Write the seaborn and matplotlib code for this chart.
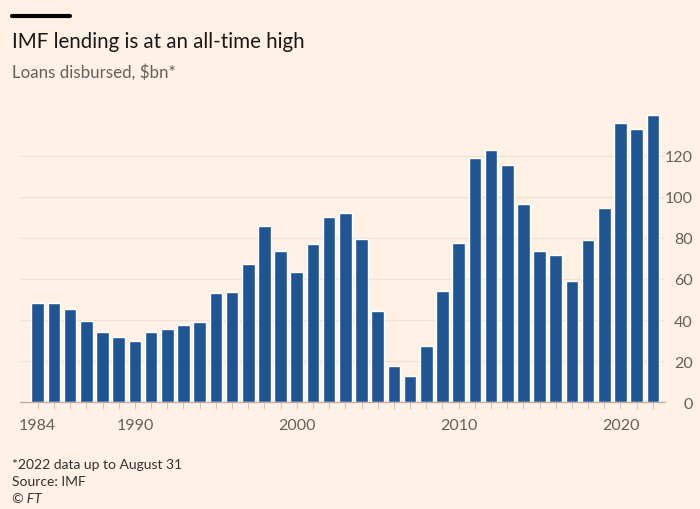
import numpy as np
import pandas as pd
import seaborn as sns
import matplotlib.pyplot as plt
from matplotlib.lines import Line2D

# Loans disbursed by the IMF, $bn
years = list(range(1984, 2023))
loans = [48.3, 48.3, 45.2, 39.4, 34.0, 31.6, 30.0, 34.2, 35.6, 37.4,
         38.9, 53.3, 53.8, 67.4, 85.6, 73.7, 63.2, 76.8, 90.3, 92.1,
         79.6, 44.6, 17.5, 12.6, 27.5, 54.3, 77.5, 118.7, 122.7, 115.4,
         96.6, 73.4, 71.5, 59.1, 79.1, 94.3, 135.7, 133.2, 139.7]
year_ticks = [1984, 1990, 2000, 2010, 2020]
value_ticks = [0, 20, 40, 60, 80, 100, 120]

df = pd.DataFrame({"year": years, "loans": loans})

bg = "#FFF1E5"
bar_col = "#1F5592"
grey = "#66605C"

sns.set_theme(style="white")
plt.rcParams["font.family"] = ["Lato", "DejaVu Sans"]

fig = plt.figure(figsize=(7, 5.1), dpi=100, facecolor=bg)
ax = fig.add_axes([20 / 700, 1 - 403.3 / 510, 645 / 700, (403.3 - 111) / 510])
ax.set_facecolor(bg)

sns.barplot(data=df, x="year", y="loans", native_scale=True, color=bar_col,
            saturation=1, width=0.78, ax=ax, zorder=3)

ax.set_xlim(1982.9, 2022.75)
ax.set_ylim(0, 142.2)

# gridlines
ax.set_yticks(value_ticks)
ax.grid(axis="y", color="#EEE0D3", linewidth=0.9, zorder=0)
ax.yaxis.tick_right()
ax.tick_params(axis="y", length=0, pad=20, labelsize=11.5, labelcolor=grey)
for lab in ax.get_yticklabels():
    lab.set_horizontalalignment("right")

# x ticks: every year minor, labelled decades
ax.set_xticks(year_ticks)
ax.set_xticklabels([str(y) for y in year_ticks])
ax.set_xticks(years, minor=True)
ax.tick_params(axis="x", which="both", length=5, width=0.8, color="#D5C9BE",
               labelsize=11.5, labelcolor=grey, pad=6, bottom=True)
ax.set_xlabel("")
ax.set_ylabel("")

for s in ["top", "right", "left"]:
    ax.spines[s].set_visible(False)
ax.spines["bottom"].set_color("#B8ADA4")
ax.spines["bottom"].set_linewidth(0.9)
ax.spines["bottom"].set_zorder(4)

# header
fig.add_artist(Line2D([12 / 700, 70 / 700], [1 - 17 / 510, 1 - 17 / 510],
                      color="black", linewidth=3, transform=fig.transFigure))
fig.text(12 / 700, 1 - 42 / 510, "IMF lending is at an all-time high",
         fontsize=14.8, color="#1A1817", va="center", ha="left")
fig.text(12 / 700, 1 - 72 / 510, "Loans disbursed, $bn*",
         fontsize=12.2, color=grey, va="center", ha="left")

# footer
fig.text(12 / 700, 1 - 465 / 510, "*2022 data up to August 31",
         fontsize=10, color="#33302E", va="center", ha="left")
fig.text(12 / 700, 1 - 482 / 510, "Source: IMF",
         fontsize=10, color="#33302E", va="center", ha="left")
fig.text(12 / 700, 1 - 499 / 510, "© FT",
         fontsize=10, color="#33302E", va="center", ha="left", style="italic")

fig.savefig("out.png", dpi=100, facecolor=bg)
